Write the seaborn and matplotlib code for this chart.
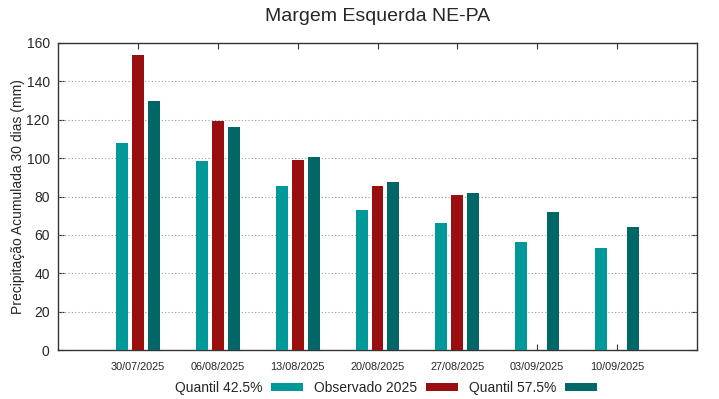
import matplotlib
matplotlib.use("Agg")
import matplotlib.pyplot as plt
import seaborn as sns
import pandas as pd
import numpy as np

dates = ["30/07/2025", "06/08/2025", "13/08/2025", "20/08/2025", "27/08/2025", "03/09/2025", "10/09/2025"]
q425 = [108.0, 98.6, 85.4, 72.9, 66.3, 56.2, 52.9]
obs2025 = [154.0, 119.6, 99.1, 85.4, 80.7, np.nan, np.nan]
q575 = [129.8, 116.1, 100.8, 87.8, 81.6, 71.7, 64.2]
series = ["Quantil 42.5%", "Observado 2025", "Quantil 57.5%"]
colors = ["#009999", "#990e0e", "#006666"]

rows = []
for name, vals in zip(series, [q425, obs2025, q575]):
    for d, v in zip(dates, vals):
        if not np.isnan(v):
            rows.append({"date": d, "serie": name, "valor": v})
df = pd.DataFrame(rows)

sns.set_style("white")
plt.rcParams['font.family'] = ['Liberation Sans', 'DejaVu Sans']

fig = plt.figure(figsize=(7.19, 3.99), dpi=100)
ax = fig.add_axes([58/719, 1-350/399, (697-58)/719, (350-43)/399])

sns.barplot(data=df, x="date", y="valor", hue="serie", order=dates, hue_order=series,
            palette=colors, width=0.6, gap=0.25, errorbar=None, ax=ax,
            edgecolor="none", saturation=1, legend=True, zorder=3)

ax.set_xlim(-1, 7)
ax.set_ylim(0, 160)
ax.set_yticks(range(0, 161, 20))
for y in range(20, 160, 20):
    ax.axhline(y, color="#999999", linestyle=(0, (1, 2)), linewidth=0.8, zorder=1)

for s in ax.spines.values():
    s.set_color("#333333")
    s.set_linewidth(1.0)

ax.tick_params(axis="both", direction="in", top=True, right=True, left=True, bottom=True,
               length=4, width=0.8, color="#333333")
ax.tick_params(axis="x", labelsize=7.8, pad=9)
ax.tick_params(axis="y", labelsize=10, pad=6)
ax.set_xlabel("")
ax.set_ylabel("Precipitação Acumulada 30 dias (mm)", fontsize=10, labelpad=1)
ax.set_title("Margem Esquerda NE-PA", fontsize=14, pad=16)

handles, labels = ax.get_legend_handles_labels()
ax.get_legend().remove()
fig.legend(handles, labels, loc="center", bbox_to_anchor=(386/719, 1-388/399), ncol=3,
           markerfirst=False, frameon=False, fontsize=10, handlelength=2.3,
           handleheight=0.45, handletextpad=0.6, columnspacing=0.8)

fig.savefig("out.png", dpi=100)
